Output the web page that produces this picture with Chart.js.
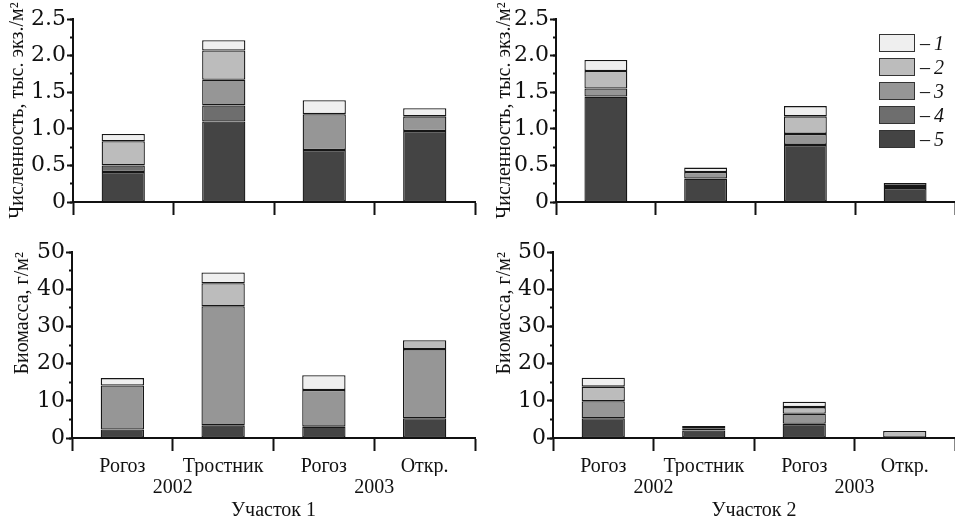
<!DOCTYPE html>
<html>
<head>
<meta charset="utf-8">
<script src="https://cdn.jsdelivr.net/npm/chart.js@4.4.1/dist/chart.umd.min.js"></script>
<style>
  body { margin: 0; background: #fff; width: 955px; height: 518px; position: relative; overflow: hidden; }
  canvas { position: absolute; }
  #legend { position: absolute; left: 879px; top: 34px; font-family: 'Liberation Serif', serif; font-size: 20px; color: #111; }
  .item { height: 24px; display: flex; align-items: flex-start; }
  .box { width: 34px; height: 16px; border: 1px solid #333; }
  .lbl { margin-left: 5px; line-height: 18px; white-space: nowrap; }
  .lbl i { margin-left: 4px; }
</style>
</head>
<body>
<canvas id="numChart1" width="480" height="225" style="left:0;top:0"></canvas>
<canvas id="numChart2" width="475" height="225" style="left:480px;top:0"></canvas>
<canvas id="bioChart1" width="480" height="288" style="left:0;top:230px"></canvas>
<canvas id="bioChart2" width="475" height="288" style="left:480px;top:230px"></canvas>
<div id="legend"></div>
<script>
// categories
const categories = ['Рогоз', 'Тростник', 'Рогоз', 'Откр.'];
const years = ['2002', '2003'];
const seriesNames = ['1', '2', '3', '4', '5'];
const seriesColors = ['#efefef', '#bcbcbc', '#969696', '#6e6e6e', '#444444'];

// tick labels
const numTickLabels = ['0', '0.5', '1.0', '1.5', '2.0', '2.5'];
const bioTickLabels = ['0', '10', '20', '30', '40', '50'];

// численность, участок 1 (группы 1..5)
const num1_s1 = [0.10, 0.14, 0.19, 0.11];
const num1_s2 = [0.33, 0.40, 0, 0];
const num1_s3 = [0, 0.35, 0.49, 0.20];
const num1_s4 = [0.09, 0.22, 0, 0];
const num1_s5 = [0.41, 1.10, 0.71, 0.97];

// численность, участок 2
const num2_s1 = [0.15, 0.06, 0.14, 0.04];
const num2_s2 = [0.24, 0, 0.24, 0.03];
const num2_s3 = [0.11, 0.09, 0.15, 0];
const num2_s4 = [0, 0, 0, 0];
const num2_s5 = [1.44, 0.32, 0.78, 0.19];

// биомасса, участок 1
const bio1_s1 = [2.0, 2.9, 4.0, 0];
const bio1_s2 = [0, 6.2, 0, 2.4];
const bio1_s3 = [11.8, 32.0, 9.85, 18.6];
const bio1_s4 = [0, 0, 0, 0];
const bio1_s5 = [2.3, 3.4, 3.05, 5.3];

// биомасса, участок 2
const bio2_s1 = [2.4, 0, 1.44, 0];
const bio2_s2 = [3.9, 0, 1.8, 1.9];
const bio2_s3 = [4.6, 0.6, 2.7, 0];
const bio2_s4 = [0, 0.6, 0, 0];
const bio2_s5 = [5.3, 2.0, 3.8, 0];

const ink = '#111';
const serif = 'Liberation Serif';

function makeChart(id, series, yMax, yStep, minorStep, tickLabels, yTitle, o) {
    const datasets = [];
    // group 5 at the bottom of the stack
    for (let i = 4; i >= 0; i--) {
        datasets.push({
            label: seriesNames[i],
            data: series[i].map(v => v === 0 ? null : v), // empty groups: no segment
            backgroundColor: seriesColors[i],
            borderColor: '#161616',
            borderWidth: 1.3,
            borderSkipped: false,
            inflateAmount: 0,
            categoryPercentage: 1,
            barPercentage: 0.43,
            xAxisID: 'x',
            yAxisID: 'y'
        });
    }

    const scales = {
        x: {
            type: 'category',
            stacked: true,
            offset: true,
            weight: 0,
            grid: { offset: true, drawOnChartArea: false, tickLength: 13, tickWidth: 2, tickColor: ink },
            border: { color: ink, width: 2 },
            ticks: { display: o.bottom, padding: 4, color: ink, autoSkip: false, maxRotation: 0,
                     font: { family: serif, size: 20 } },
            afterFit: s => { s.height = o.bottom ? 38 : 23; }
        },
        y: {
            stacked: true,
            position: 'left',
            min: 0,
            max: yMax,
            weight: 1,
            ticks: { stepSize: yStep, padding: 1, color: ink, font: { family: 'DejaVu Serif', size: 22 },
                     callback: (v, i) => tickLabels[i] },
            grid: { drawOnChartArea: false, tickLength: 6, tickWidth: 2, tickColor: ink },
            border: { color: ink, width: 2 },
            title: { display: true, text: yTitle, color: ink, align: o.titleAlign,
                     font: { family: serif, size: 20 }, padding: { top: o.titlePad, bottom: 0 } },
            afterFit: s => { s.width = o.axisWidth; }
        },
        yMinor: {
            position: 'left',
            min: 0,
            max: yMax,
            weight: 0,
            ticks: { stepSize: minorStep, display: false },
            grid: { drawOnChartArea: false, tickLength: 3, tickWidth: 2, tickColor: ink },
            border: { display: false },
            afterFit: s => { s.width = 0; }
        }
    };

    if (o.bottom) {
        scales.yr = {
            type: 'category',
            labels: years,
            position: 'bottom',
            offset: true,
            weight: 1,
            grid: { display: false, drawTicks: false },
            border: { display: false },
            ticks: { padding: 0, color: ink, font: { family: serif, size: 20 } },
            title: { display: true, text: 'Участок ' + o.site, color: ink, padding: 0,
                     font: { family: serif, size: 20, lineHeight: 0.75 } },
            afterFit: s => { s.height = 42; }
        };
    }

    const ctx = document.getElementById(id).getContext('2d');
    return new Chart(ctx, {
        type: 'bar',
        data: { labels: categories, datasets: datasets },
        options: {
            responsive: false,
            animation: false,
            layout: { padding: { top: o.padTop, right: o.padRight, left: 0, bottom: 0 } },
            plugins: { legend: { display: false }, tooltip: { enabled: false } },
            scales: scales
        }
    });
}

const numTitle = 'Численность, тыс. экз./м²';
const bioTitle = 'Биомасса, г/м²';

makeChart('numChart1', [num1_s1, num1_s2, num1_s3, num1_s4, num1_s5], 2.5, 0.5, 0.25, numTickLabels, numTitle,
    { bottom: false, axisWidth: 73, titlePad: 6, titleAlign: 'center', padTop: 19, padRight: 5 });
makeChart('numChart2', [num2_s1, num2_s2, num2_s3, num2_s4, num2_s5], 2.5, 0.5, 0.25, numTickLabels, numTitle,
    { bottom: false, axisWidth: 76, titlePad: 13, titleAlign: 'center', padTop: 19, padRight: 0 });
makeChart('bioChart1', [bio1_s1, bio1_s2, bio1_s3, bio1_s4, bio1_s5], 50, 10, 5, bioTickLabels, bioTitle,
    { bottom: true, site: 1, axisWidth: 72, titlePad: 11, titleAlign: 'end', padTop: 22, padRight: 5 });
makeChart('bioChart2', [bio2_s1, bio2_s2, bio2_s3, bio2_s4, bio2_s5], 50, 10, 5, bioTickLabels, bioTitle,
    { bottom: true, site: 2, axisWidth: 73, titlePad: 13, titleAlign: 'end', padTop: 22, padRight: 0 });

// legend, group 1 on top
const legend = document.getElementById('legend');
seriesNames.forEach((name, i) => {
    const item = document.createElement('div');
    item.className = 'item';
    item.innerHTML = '<div class="box" style="background:' + seriesColors[i] + '"></div>' +
        '<span class="lbl">–<i>' + name + '</i></span>';
    legend.appendChild(item);
});
</script>
</body>
</html>
